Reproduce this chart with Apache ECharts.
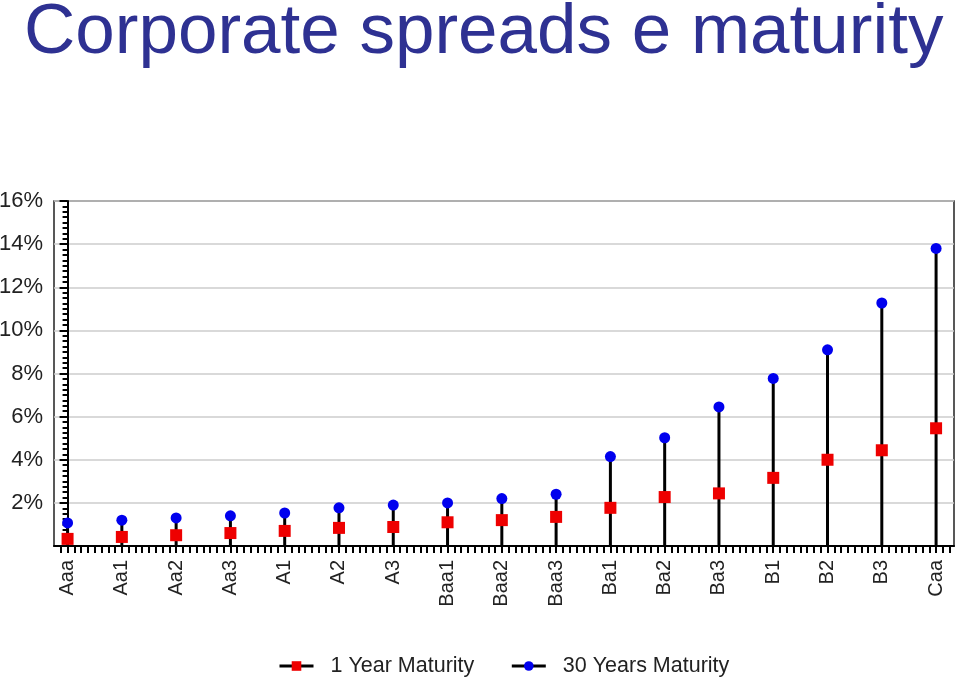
<!DOCTYPE html>
<html>
<head>
<meta charset="utf-8">
<script src="https://cdn.jsdelivr.net/npm/echarts@6/dist/echarts.min.js"></script>
<style>html,body{margin:0;padding:0;background:#fff}#c{width:959px;height:679px}</style>
</head>
<body>
<div id="c"></div>
<script>
var categories = ['Aaa','Aa1','Aa2','Aa3','A1','A2','A3','Baa1','Baa2','Baa3','Ba1','Ba2','Ba3','B1','B2','B3','Caa'];
var oneYear = [0.33,0.42,0.5,0.6,0.7,0.84,0.88,1.1,1.2,1.35,1.77,2.27,2.44,3.16,4.0,4.44,5.46];
var thirtyYears = [1.07,1.2,1.3,1.4,1.53,1.77,1.9,2.0,2.2,2.4,4.15,5.02,6.45,7.77,9.1,11.27,13.8];
var yTicks = [2,4,6,8,10,12,14,16];

var xLabelVals = categories.map(function(c,i){return i;});
var xTickVals = [];
for (var t = -1; t <= 16*8 + 2; t++) { xTickVals.push(t/8); }

var chart = echarts.init(document.getElementById('c'));
var font = '"Liberation Sans", Arial, sans-serif';
chart.setOption({
  animation: false,
  title: {
    text: 'Corporate spreads e maturity',
    left: 19, top: -7,
    textStyle: {color: '#2E3192', fontSize: 71, fontWeight: 'normal', fontFamily: font}
  },
  legend: {
    left: 273, top: 650,
    itemWidth: 34, itemHeight: 12, itemGap: 36,
    textStyle: {fontSize: 21.5, color: '#222', fontFamily: font, padding: [0,0,0,12]},
    lineStyle: {opacity: 1, color: '#000', width: 3},
    data: ['1 Year Maturity', '30 Years Maturity']
  },
  grid: {left: 54, right: 5, top: 201, bottom: 133, show: true, borderColor: '#222', borderWidth: 1.5, outerBoundsMode: 'none', containLabel: false},
  xAxis: {
    type: 'value', min: -0.25, max: 16.33,
    splitLine: {show: false},
    axisLine: {lineStyle: {color: '#000', width: 2}},
    axisTick: {show: true, customValues: xTickVals, length: 7, inside: false, lineStyle: {color: '#000', width: 2}},
    axisLabel: {
      customValues: xLabelVals, rotate: 90, fontSize: 20, color: '#222', fontFamily: font, margin: 14,
      formatter: function(v){ var i = Math.round(v); return categories[i] || ''; }
    }
  },
  yAxis: {
    type: 'value', min: 0, max: 16, interval: 2,
    axisLine: {show: true, lineStyle: {color: '#000', width: 2}},
    axisTick: {show: true, length: 8, lineStyle: {color: '#000', width: 2}},
    minorTick: {show: true, splitNumber: 8, length: 5, lineStyle: {color: '#000', width: 2}},
    splitLine: {show: true, lineStyle: {color: '#ccc', width: 1.5}},
    axisLabel: {
      customValues: yTicks, fontSize: 22, color: '#222', fontFamily: font, margin: 11,
      formatter: function(v){ return v + '%'; }
    }
  },
  series: [
    {
      type: 'custom', name: 'stems', silent: true, z: 1,
      data: thirtyYears.map(function(v,i){return [i, v];}),
      renderItem: function(params, api){
        var x = api.value(0), y = api.value(1);
        var p0 = api.coord([x, 0]), p1 = api.coord([x, y]);
        return {type: 'line', shape: {x1: p0[0], y1: p0[1], x2: p1[0], y2: p1[1]}, style: {stroke: '#000', lineWidth: 3}};
      }
    },
    {
      type: 'line', name: '1 Year Maturity', z: 3,
      data: oneYear.map(function(v,i){return [i, v];}),
      lineStyle: {width: 3, color: '#000', opacity: 0},
      symbol: 'rect', symbolSize: 12,
      itemStyle: {color: '#ee0000'}
    },
    {
      type: 'line', name: '30 Years Maturity', z: 4,
      data: thirtyYears.map(function(v,i){return [i, v];}),
      lineStyle: {width: 3, color: '#000', opacity: 0},
      symbol: 'circle', symbolSize: 11,
      itemStyle: {color: '#0000ee'}
    }
  ]
});
</script>
</body>
</html>
